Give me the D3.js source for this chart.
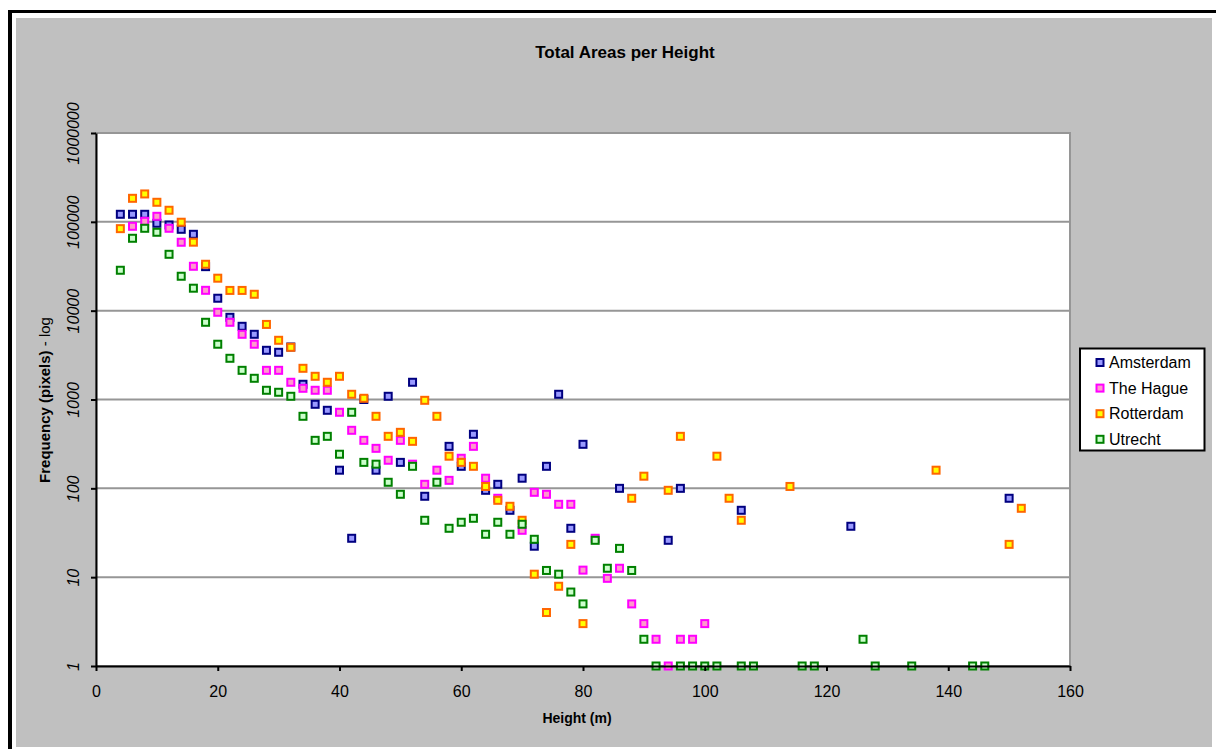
<!DOCTYPE html>
<html>
<head>
<meta charset="utf-8">
<script src="https://cdn.jsdelivr.net/npm/d3@7"></script>
<style>
    body { margin: 0; background: #ffffff; }
    text { font-family: "Liberation Sans", Arial, sans-serif; }
</style>
</head>
<body>
<div id="chart"></div>
<script>
// height (m) / frequency pairs
var amsterdam = [[4,121600],[6,121600],[8,121600],[10,96300],[12,92200],[14,82400],[16,72400],[18,31300],
    [20,13800],[22,8420],[24,6670],[26,5420],[28,3580],[30,3400],[32,3900],[34,1484],[36,883],[38,756],
    [40,160],[42,27.4],[44,1000],[46,160],[48,1087],[50,196],[52,1563],[54,81.4],[58,297],[60,177],
    [62,406],[64,95],[66,111],[68,56.6],[70,130],[72,22.3],[74,177],[76,1145],[78,35.5],[80,313],
    [86,100],[94,26],[96,100],[106,56.6],[124,37.4],[150,77.3]];
var theHague = [[6,89100],[8,101400],[10,115400],[12,84600],[14,58900],[16,31600],[18,16950],[20,9590],
    [22,7400],[24,5420],[26,4190],[28,2130],[30,2130],[32,1563],[34,1337],[36,1270],[38,1270],[40,718],
    [42,450],[44,347],[46,282],[48,207],[50,347],[52,187],[54,111],[56,160],[58,123],[60,218],[62,297],
    [64,130],[66,77.3],[70,33.7],[72,90.2],[74,85.7],[76,66.1],[78,66.1],[80,12],[82,27.4],[84,9.7],
    [86,12.6],[88,5],[90,3],[92,2],[94,1],[96,2],[98,2],[100,3]];
var rotterdam = [[4,83800],[6,184000],[8,206000],[10,166000],[12,135000],[14,99000],[16,59000],[18,33300],
    [20,23200],[22,16900],[24,16900],[26,15300],[28,7000],[30,4640],[32,3870],[34,2245],[36,1825],
    [38,1563],[40,1825],[42,1145],[44,1032],[46,647],[48,385],[50,427],[52,338],[54,979],[56,647],
    [58,230],[60,196],[62,177],[64,105],[66,73.3],[68,62.8],[70,43.7],[72,10.8],[74,4],[76,7.9],
    [78,23.4],[80,3],[88,77.3],[90,137],[94,95],[96,385],[102,230],[104,77.3],[106,43.7],[114,105],
    [138,160],[150,23.4],[152,59.6]];
var utrecht = [[4,28500],[6,65300],[8,84600],[10,76300],[12,43100],[14,24400],[16,17900],[18,7400],
    [20,4190],[22,2910],[24,2130],[26,1733],[28,1270],[30,1206],[32,1087],[34,647],[36,347],[38,385],
    [40,242],[42,718],[44,196],[46,187],[48,117],[50,85.7],[52,177],[54,43.7],[56,117],[58,35.5],
    [60,41.5],[62,46],[64,30.4],[66,41.5],[68,30.4],[70,39.4],[72,26.7],[74,11.9],[76,10.8],[78,6.8],
    [80,5],[82,26],[84,12.6],[86,21.1],[88,11.9],[90,2],[92,1],[96,1],[98,1],[100,1],[102,1],[106,1],
    [108,1],[116,1],[118,1],[126,2],[128,1],[134,1],[144,1],[146,1]];

var seriesNames = ["Amsterdam", "The Hague", "Rotterdam", "Utrecht"];
var xTicks = [0, 20, 40, 60, 80, 100, 120, 140, 160];
var yTicks = [1, 10, 100, 1000, 10000, 100000, 1000000];

var fills = ["#9999ff", "#ff99cc", "#ffff00", "#ccffcc"];
var strokes = ["#000080", "#ff00ff", "#ff6600", "#008000"];

var svg = d3.select("#chart").append("svg")
    .attr("width", 1216)
    .attr("height", 749);

// chart frame
svg.append("rect").attr("x", 16).attr("y", 18).attr("width", 1196).attr("height", 729).attr("fill", "#c0c0c0");
svg.append("line").attr("x1", 10).attr("y1", 11.5).attr("x2", 1216).attr("y2", 11.5).attr("stroke", "#000").attr("stroke-width", 3);
svg.append("line").attr("x1", 10).attr("y1", 10).attr("x2", 10).attr("y2", 749).attr("stroke", "#000").attr("stroke-width", 4);

var xscale = d3.scaleLinear().domain([0, 160]).range([96, 1070]);
var yscale = d3.scaleLog().domain([1, 1000000]).range([666, 133]);

// plot area
svg.append("rect")
    .attr("x", 96).attr("y", 133)
    .attr("width", 1070 - 96).attr("height", 666 - 133)
    .attr("fill", "#fff")
    .attr("stroke", "#969696")
    .attr("stroke-width", 2);

svg.append("g").attr("id", "grid")
    .selectAll("line")
    .data(yTicks.slice(1, -1))
    .enter()
    .append("line")
    .attr("x1", 96).attr("x2", 1070)
    .attr("y1", function (d) { return yscale(d); })
    .attr("y2", function (d) { return yscale(d); })
    .attr("stroke", "#969696")
    .attr("stroke-width", 2);

// markers, Amsterdam first so Utrecht ends up on top
var allSeries = [amsterdam, theHague, rotterdam, utrecht];
var points = svg.append("g").attr("id", "points");
allSeries.forEach(function (s, i) {
    points.append("g")
        .selectAll("rect")
        .data(s)
        .enter()
        .append("rect")
        .attr("x", function (d) { return xscale(d[0]) - 3.5; })
        .attr("y", function (d) { return yscale(d[1]) - 3.5; })
        .attr("width", 7)
        .attr("height", 7)
        .attr("fill", fills[i])
        .attr("stroke", strokes[i])
        .attr("stroke-width", 2);
});

// axes
var xAxis = d3.axisBottom(xscale).tickValues(xTicks).tickSize(5).tickSizeOuter(0);
var gx = svg.append("g").attr("id", "xAxis").attr("transform", "translate(0,666)").call(xAxis);
gx.select(".domain").attr("stroke", "#000").attr("stroke-width", 2);
gx.selectAll(".tick line").attr("stroke", "#000").attr("stroke-width", 2);
gx.selectAll("text")
    .attr("y", 25)
    .attr("dy", "0.35em")
    .attr("fill", "#000")
    .style("font-size", "16px")
    .style("font-family", "Liberation Sans, Arial, sans-serif");

var yAxis = d3.axisLeft(yscale).tickValues(yTicks).tickFormat(d3.format("d")).tickSize(5).tickSizeOuter(0);
var gy = svg.append("g").attr("id", "yAxis").attr("transform", "translate(96,0)").call(yAxis);
gy.select(".domain").attr("stroke", "#000").attr("stroke-width", 2);
gy.selectAll(".tick line").attr("stroke", "#000").attr("stroke-width", 2);
gy.selectAll("text")
    .attr("x", 0)
    .attr("dy", "0.35em")
    .attr("transform", "translate(-23,0) rotate(-90)")
    .attr("text-anchor", "middle")
    .attr("fill", "#000")
    .style("font-size", "16px")
    .style("font-style", "italic")
    .style("font-family", "Liberation Sans, Arial, sans-serif");

// titles
svg.append("text")
    .attr("x", 625).attr("y", 58)
    .attr("text-anchor", "middle")
    .style("font-size", "17px")
    .style("font-weight", "bold")
    .text("Total Areas per Height");

svg.append("text")
    .attr("x", 577).attr("y", 723)
    .attr("text-anchor", "middle")
    .style("font-size", "14px")
    .style("font-weight", "bold")
    .text("Height (m)");

var ytitle = svg.append("text")
    .attr("transform", "translate(50,400) rotate(-90)")
    .attr("text-anchor", "middle")
    .style("font-size", "15px");
ytitle.append("tspan").style("font-weight", "bold").text("Frequency (pixels)");
ytitle.append("tspan").text(" - log");

// legend
var legend = svg.append("g").attr("id", "legend");
legend.append("rect")
    .attr("x", 1080).attr("y", 348.5)
    .attr("width", 124.5).attr("height", 102)
    .attr("fill", "#fff")
    .attr("stroke", "#000")
    .attr("stroke-width", 2);
var items = legend.selectAll("g.item")
    .data(seriesNames)
    .enter()
    .append("g")
    .attr("class", "item")
    .attr("transform", function (d, i) { return "translate(0," + (362.5 + i * 25.6) + ")"; });
items.append("rect")
    .attr("x", 1096.5).attr("y", -3.5)
    .attr("width", 7).attr("height", 7)
    .attr("fill", function (d, i) { return fills[i]; })
    .attr("stroke", function (d, i) { return strokes[i]; })
    .attr("stroke-width", 2);
items.append("text")
    .attr("x", 1109).attr("y", 0)
    .attr("dy", "0.35em")
    .style("font-size", "16px")
    .text(function (d) { return d; });
</script>
</body>
</html>
